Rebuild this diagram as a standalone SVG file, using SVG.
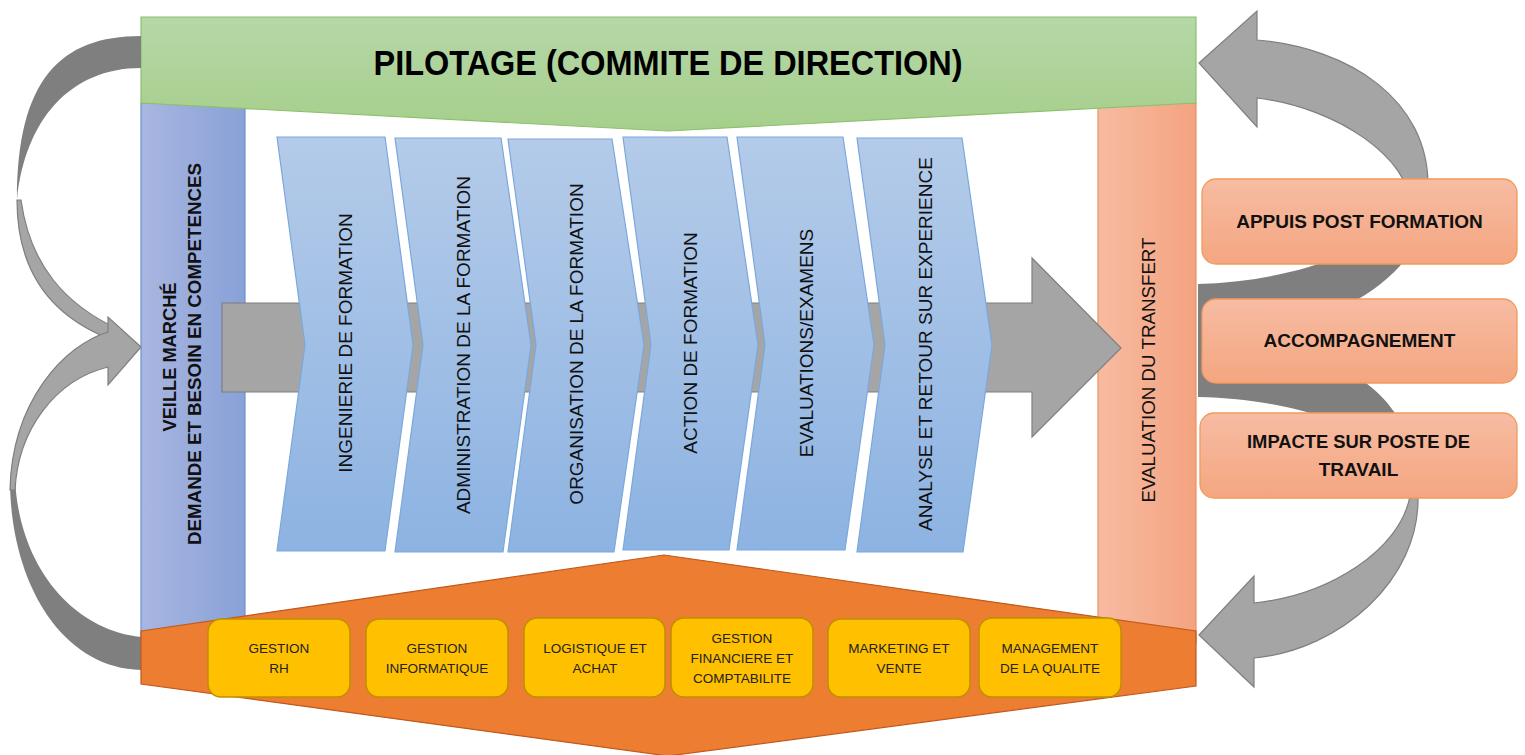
<svg xmlns="http://www.w3.org/2000/svg" width="1525" height="755" viewBox="0 0 1525 755">
<defs>
<linearGradient id="gGreen" x1="0" y1="0" x2="0" y2="1"><stop offset="0" stop-color="#b6d7a8"/><stop offset="1" stop-color="#a6cf8b"/></linearGradient>
<linearGradient id="gBlue" x1="0" y1="0" x2="1" y2="0"><stop offset="0" stop-color="#a9b6e0"/><stop offset="1" stop-color="#88a1d8"/></linearGradient>
<linearGradient id="gSalmon" x1="0" y1="0" x2="1" y2="0"><stop offset="0" stop-color="#f7bba2"/><stop offset="1" stop-color="#f4a37f"/></linearGradient>
<linearGradient id="gChev" x1="0" y1="0" x2="0" y2="1"><stop offset="0" stop-color="#b4cbe9"/><stop offset="1" stop-color="#8db3e2"/></linearGradient>
<linearGradient id="gBox" x1="0" y1="0" x2="0" y2="1"><stop offset="0" stop-color="#f7bca3"/><stop offset="1" stop-color="#f4a680"/></linearGradient>
</defs>
<style>
.arrow{fill:#a5a5a5;stroke:#7f7f7f;stroke-width:1.2}
.under{fill:#7f7f7f;stroke:none}
.chev{fill:url(#gChev);stroke:#7aa8dc;stroke-width:1.2}
.ybox{fill:#ffc000;stroke:#bf9000;stroke-width:1.5}
.rbox{fill:url(#gBox);stroke:#f19a5e;stroke-width:1.3}
.ct{font-family:"Liberation Sans",Arial,sans-serif;font-size:19px;fill:#111;text-anchor:middle}
.yt{font-family:"Liberation Sans",Arial,sans-serif;font-size:13.5px;fill:#222;text-anchor:middle}
.bt{font-family:"Liberation Sans",Arial,sans-serif;font-weight:bold;font-size:19px;fill:#111;text-anchor:middle}
</style>
<rect width="1525" height="755" fill="#ffffff"/>

<g id="col-veille">
<rect x="141" y="103" width="104" height="540" fill="url(#gBlue)" stroke="#6f8fcf" stroke-width="1.2"/>
<text class="bt" transform="translate(168,357) rotate(-90)" y="7.5" font-size="20.5" textLength="149" lengthAdjust="spacingAndGlyphs">VEILLE MARCHÉ</text>
<text class="bt" transform="translate(193,354) rotate(-90)" y="7.5" font-size="20.5" textLength="382" lengthAdjust="spacingAndGlyphs">DEMANDE ET BESOIN EN COMPETENCES</text>
</g>

<g id="col-evaluation">
<rect x="1098" y="103" width="98" height="540" fill="url(#gSalmon)" stroke="#f0905f" stroke-width="1.2"/>
<text class="ct" transform="translate(1147,370) rotate(-90)" y="7.5" font-size="20.5" textLength="265" lengthAdjust="spacingAndGlyphs" font-family="Liberation Sans, Arial, sans-serif">EVALUATION DU TRANSFERT</text>
</g>

<g id="pilotage">
<path d="M141,17 L1196,17 L1196,103 L668,131 L141,103 Z" fill="url(#gGreen)" stroke="#8cc06d" stroke-width="1.2"/>
<text x="668" y="75" font-family="Liberation Sans, Arial, sans-serif" font-weight="bold" font-size="35" text-anchor="middle" fill="#000" textLength="589" lengthAdjust="spacingAndGlyphs">PILOTAGE (COMMITE DE DIRECTION)</text>
</g>

<g id="connectors">
<!-- upper-left curved arrow -->
<path class="under" d="M141,36 C60,36 17,80 17,200 C25,120 70,68 141,68 Z"/>
<path class="arrow" d="M17,200 C17,260 40,315 118,342 L120,330 C65,305 30,265 21,200 Z"/>
<!-- lower-left curved arrow -->
<path class="under" d="M10,480 C10,580 60,668 141,670 L141,637 C75,630 20,570 15,480 Z"/>
<path class="arrow" d="M141,347 L108,317 L108,332 C65,345 12,400 10,490 L15,490 C18,430 55,380 108,367 L108,385 Z"/>
<!-- upper-right curved arrow -->
<path class="under" d="M1198,284 C1290,282 1385,250 1428,195 L1428,215 C1410,280 1340,330 1198,342 Z"/>
<path class="arrow" d="M1199,63 L1257,11 L1257,40 C1350,48 1428,100 1428,185 L1428,205 L1410,205 C1410,160 1340,108 1257,98 L1257,127 Z"/>
<!-- lower-right curved arrow -->
<path class="under" d="M1198,338 C1330,345 1400,380 1418,470 L1418,500 L1412,500 C1400,440 1320,400 1198,397 Z"/>
<path class="arrow" d="M1199,635 L1254,576 L1254,603 C1330,595 1400,550 1410,496 L1418,496 C1420,580 1340,650 1254,658 L1254,687 Z"/>
<!-- main process arrow -->
<path class="arrow" d="M222,303 L1032,303 L1032,258 L1121,348 L1032,437 L1032,392 L222,392 Z"/>
</g>

<g id="step-ingenierie">
<path class="chev" d="M277,137 L385,137 L413,345 L385,551 L277,551 L305,345 Z"/>
<text class="ct" transform="translate(345,343) rotate(-90)" y="7">INGENIERIE DE FORMATION</text>
</g>
<g id="step-administration">
<path class="chev" d="M395,138 L501,138 L531,345 L503,552 L395,552 L423,345 Z"/>
<text class="ct" transform="translate(463,345) rotate(-90)" y="7">ADMINISTRATION DE LA FORMATION</text>
</g>
<g id="step-organisation">
<path class="chev" d="M508,139 L612,139 L644,345 L614,552 L508,552 L536,345 Z"/>
<text class="ct" transform="translate(576,344) rotate(-90)" y="7">ORGANISATION DE LA FORMATION</text>
</g>
<g id="step-action">
<path class="chev" d="M623,137 L727,137 L758,345 L729,550 L623,550 L651,345 Z"/>
<text class="ct" transform="translate(690,343) rotate(-90)" y="7">ACTION DE FORMATION</text>
</g>
<g id="step-evaluations">
<path class="chev" d="M737,137 L843,137 L874,345 L845,550 L737,550 L765,345 Z"/>
<text class="ct" transform="translate(806,343) rotate(-90)" y="7">EVALUATIONS/EXAMENS</text>
</g>
<g id="step-analyse">
<path class="chev" d="M857,138 L962,138 L992,345 L963,552 L857,552 L885,345 Z"/>
<text class="ct" transform="translate(925,344) rotate(-90)" y="7">ANALYSE ET RETOUR SUR EXPERIENCE</text>
</g>

<g id="support-band">
<path d="M141,631 L664,555 L1196,631 L1196,686 L668,756 L141,684 Z" fill="#ed7d31" stroke="#c0591c" stroke-width="1.2"/>
</g>

<g id="gestion-rh">
<rect class="ybox" x="208" y="619" width="142" height="78" rx="13"/>
<text class="yt" x="279" y="653">GESTION</text><text class="yt" x="279" y="673">RH</text>
</g>
<g id="gestion-informatique">
<rect class="ybox" x="366" y="619" width="142" height="78" rx="13"/>
<text class="yt" x="437" y="653">GESTION</text><text class="yt" x="437" y="673">INFORMATIQUE</text>
</g>
<g id="logistique">
<rect class="ybox" x="524" y="618" width="141" height="79" rx="13"/>
<text class="yt" x="595" y="653">LOGISTIQUE ET</text><text class="yt" x="595" y="673">ACHAT</text>
</g>
<g id="gestion-financiere">
<rect class="ybox" x="671" y="618" width="142" height="79" rx="13"/>
<text class="yt" x="742" y="643">GESTION</text><text class="yt" x="742" y="663">FINANCIERE ET</text><text class="yt" x="742" y="683">COMPTABILITE</text>
</g>
<g id="marketing">
<rect class="ybox" x="828" y="619" width="142" height="78" rx="13"/>
<text class="yt" x="899" y="653">MARKETING ET</text><text class="yt" x="899" y="673">VENTE</text>
</g>
<g id="management-qualite">
<rect class="ybox" x="979" y="618" width="142" height="79" rx="13"/>
<text class="yt" x="1050" y="653">MANAGEMENT</text><text class="yt" x="1050" y="673">DE LA QUALITE</text>
</g>

<g id="appuis">
<rect class="rbox" x="1202" y="179" width="315" height="85" rx="14"/>
<text class="bt" x="1359.5" y="228">APPUIS POST FORMATION</text>
</g>
<g id="accompagnement">
<rect class="rbox" x="1202" y="299" width="315" height="84" rx="14"/>
<text class="bt" x="1359.5" y="347">ACCOMPAGNEMENT</text>
</g>
<g id="impacte">
<rect class="rbox" x="1200" y="413" width="317" height="85" rx="14"/>
<text class="bt" x="1358.5" y="448" textLength="223" lengthAdjust="spacingAndGlyphs">IMPACTE SUR POSTE DE</text>
<text class="bt" x="1358.5" y="476">TRAVAIL</text>
</g>
</svg>
